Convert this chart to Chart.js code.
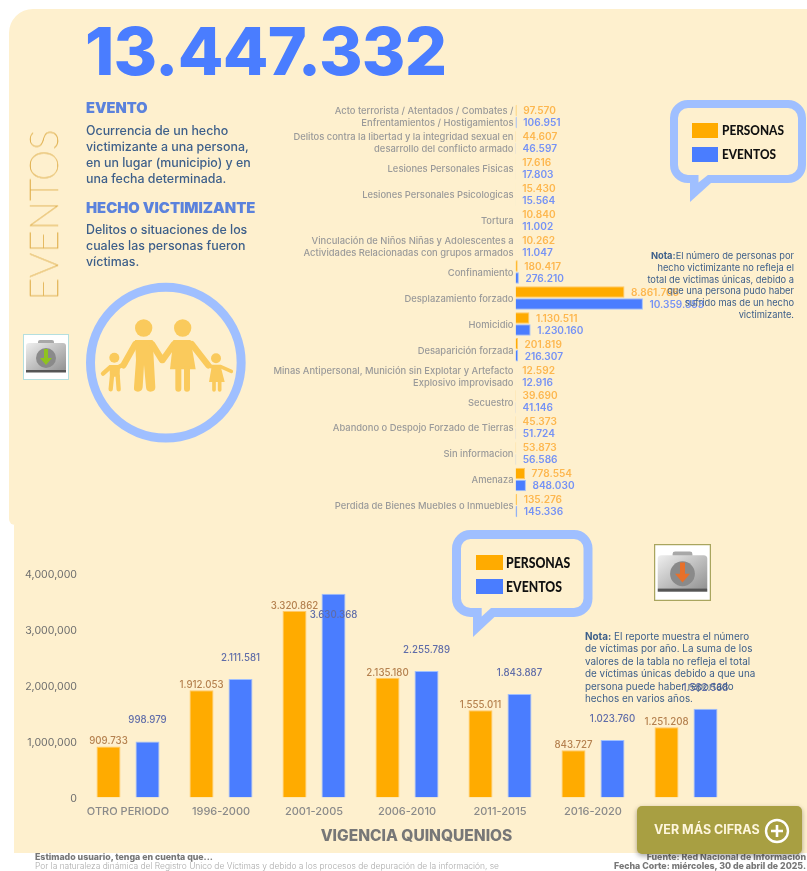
<!DOCTYPE html>
<html lang="es"><head><meta charset="utf-8">
<script src="https://cdn.jsdelivr.net/npm/chart.js@4"></script>
<style>
html,body{margin:0;padding:0;background:#fff;overflow:hidden}
#page{position:relative;width:807px;height:871px;overflow:hidden;font-family:Inter,"Open Sans",sans-serif}
.abs{position:absolute}
.panel{background:#FEF0CE}
canvas{position:absolute}
h3{position:absolute;margin:0;font-family:Inter;font-weight:900;color:#5B82DC;white-space:nowrap}
.body{position:absolute;font-family:Inter;font-size:12.4px;line-height:16px;color:#3D5F8A;font-weight:500;white-space:pre}
.note{position:absolute;color:#3D5F8A;font-family:Inter;white-space:pre}
.lg{position:absolute;font-family:Lato;font-weight:900;color:#111;white-space:nowrap;line-height:1;transform-origin:0 50%}
.sw{position:absolute}
</style></head><body>
<div id="page">
<div class="abs panel" style="left:9px;top:9px;width:798px;height:516px;border-radius:24px 0 0 6px"></div>
<div class="abs panel" style="left:14px;top:525px;width:793px;height:328px"></div>

<canvas id="top" width="807" height="425" style="left:0;top:100px;width:807px;height:425px"></canvas>
<canvas id="bot" width="807" height="293" style="left:0;top:560px;width:807px;height:293px"></canvas>

<div class="abs" id="total" style="left:85px;top:11px;font:800 66.5px/80px Inter;letter-spacing:-0.8px;color:#4A7DFF;white-space:nowrap"></div>
<div class="abs" style="left:42.500px;top:215px;width:0;height:0"><div style="position:absolute;transform:translate(-50%,-50%) rotate(-90deg);font:100 39px/40px Lato;color:#DDAB45;-webkit-text-stroke:.3px #DDAB45;white-space:nowrap">EVENTOS</div></div>

<h3 style="left:86px;top:100px;font-size:14.6px;line-height:17px">EVENTO</h3>
<div class="body" style="left:86px;top:123px">Ocurrencia de un hecho
victimizante a una persona,
en un lugar (municipio) y en
una fecha determinada.</div>
<h3 style="left:86px;top:199px;font-size:14.8px;line-height:18px">HECHO VICTIMIZANTE</h3>
<div class="body" style="left:86px;top:222px">Delitos o situaciones de los
cuales las personas fueron
víctimas.</div>

<svg class="abs" style="left:0;top:280px" width="260" height="180" viewBox="0 0 780 540">
<circle cx="497.500" cy="248" r="226" fill="none" stroke="#9FBFFF" stroke-width="27"/>
<g fill="#FACA5C" stroke="#FACA5C" stroke-linecap="round" stroke-linejoin="round">
<circle cx="431" cy="144" r="26" stroke="none"/><circle cx="548" cy="144" r="26" stroke="none"/>
<circle cx="343" cy="233" r="15" stroke="none"/><circle cx="648" cy="235" r="15" stroke="none"/>
<path stroke="none" d="M405 180H458L466 322Q466 335 451 335Q439 335 438 322L432 255L428 322Q426 335 414 335Q400 335 402 322L408 240Z"/>
<path fill="none" stroke-width="19" d="M406 192L370 256M456 192L486 240M522 192L488 240M575 192L625 256"/>
<path stroke="none" d="M520 180H572L587 268H510Z"/>
<path fill="none" stroke-width="18" d="M535 268V326M561 268V326"/>
<path stroke="none" d="M328 255H360L359 290H330Z"/>
<path fill="none" stroke-width="13" d="M336 288L332 328M353 288L356 328M330 262L309 281M358 260L376 250"/>
<path stroke="none" d="M636 254H661L674 306H627Z"/>
<path fill="none" stroke-width="11" d="M642 306V330M659 306V330M634 260L615 248M662 260L694 274"/>
</g></svg>

<svg class="abs" style="left:22.500px;top:334px" width="46" height="46" viewBox="0 0 46 46">
<defs><linearGradient id="f1" x1="0" y1="0" x2="1" y2="1"><stop offset="0" stop-color="#EFEFEF"/><stop offset="1" stop-color="#8F8F8F"/></linearGradient></defs>
<rect x=".5" y=".5" width="45" height="45" fill="#fff" stroke="#B5DFDF"/>
<rect x="15" y="6" width="16" height="7" rx="2" fill="#A8A8A8"/>
<rect x="3" y="9" width="40" height="29" rx="3" fill="url(#f1)"/><rect x="3" y="36" width="40" height="2.500" fill="#555"/>
<circle cx="23" cy="24" r="10" fill="#8A8A8A"/><path d="M21 15h4v9h4l-6 7-6-7h4z" fill="#8FC31F"/>
</svg>
<svg class="abs" style="left:654px;top:544px" width="57" height="57" viewBox="0 0 46 46">
<defs><linearGradient id="f2" x1="0" y1="0" x2="1" y2="1"><stop offset="0" stop-color="#EFEFEF"/><stop offset="1" stop-color="#8F8F8F"/></linearGradient></defs>
<rect x=".5" y=".5" width="45" height="45" fill="#fff" stroke="#A9A55E"/>
<rect x="15" y="6" width="16" height="7" rx="2" fill="#A8A8A8"/>
<rect x="3" y="9" width="40" height="29" rx="3" fill="url(#f2)"/><rect x="3" y="36" width="40" height="2.500" fill="#555"/>
<circle cx="23" cy="24" r="10" fill="#8A8A8A"/><path d="M21 15h4v9h4l-6 7-6-7h4z" fill="#E8702A"/>
</svg>

<svg class="abs" style="left:660px;top:90px" width="147" height="120" viewBox="660 90 147 120">
<rect x="674" y="104" width="128" height="75" rx="14" fill="#FEF0CE" stroke="#9FBFFF" stroke-width="8"/>
<path d="M690 178V202L711 183Z" fill="#9FBFFF"/><path d="M698.500 174.500H708.500L698.500 182.500Z" fill="#FEF0CE"/></svg>
<div class="sw" style="left:692px;top:123px;width:26px;height:14.500px;background:#FFAB00"></div>
<div class="sw" style="left:692px;top:147px;width:26px;height:14.500px;background:#4A7DFF"></div>
<div class="lg k0" style="left:722px;top:124px;font-size:13.500px;transform:scaleX(.875)"></div>
<div class="lg k1" style="left:722px;top:148px;font-size:13.500px;transform:scaleX(.875)"></div>

<svg class="abs" style="left:445px;top:525px" width="155" height="120" viewBox="445 525 155 120">
<rect x="456.500" y="534.500" width="131.500" height="78" rx="14" fill="#FEF0CE" stroke="#9FBFFF" stroke-width="9"/>
<path d="M473 611V637L495 616.500Z" fill="#9FBFFF"/><path d="M481.700 608H491L481.700 616.500Z" fill="#FEF0CE"/></svg>
<div class="sw" style="left:475.500px;top:555px;width:27px;height:14.500px;background:#FFAB00"></div>
<div class="sw" style="left:475.500px;top:579px;width:27px;height:15px;background:#4A7DFF"></div>
<div class="lg k0" style="left:506px;top:556px;font-size:14.500px;transform:scaleX(.845)"></div>
<div class="lg k1" style="left:506px;top:580px;font-size:14.500px;transform:scaleX(.845)"></div>

<div class="note" style="right:13px;top:250px;font-size:9.300px;line-height:11.800px;text-align:right;font-weight:400"><b>Nota:</b>El número de personas por
hecho victimizante no refleja el
total de victimas únicas, debido a
que una persona pudo haber
sufrido mas de un hecho
victimizante.</div>
<div class="note" style="left:585px;top:629.500px;font-size:9.900px;line-height:12.600px;font-weight:400"><b>Nota:</b> El reporte muestra el número
de víctimas por año. La suma de los
valores de la tabla no refleja el total
de víctimas únicas debido a que una
persona puede haber reportado
hechos en varios años.</div>

<div class="abs" id="xtitle" style="left:216.500px;width:400px;text-align:center;top:826px;font:800 15.500px/20px Inter;color:#777;white-space:nowrap"></div>

<div class="abs" style="left:35px;top:852px;font:800 8.800px/10px Inter;color:#777;white-space:nowrap">Estimado usuario, tenga en cuenta que...</div>
<div class="abs" style="left:35px;top:861px;font:300 8.450px/10px Inter;color:#AAA;white-space:nowrap">Por la naturaleza dinámica del Registro Único de Víctimas y debido a los procesos de depuración de la información, se</div>
<div class="abs" style="right:1px;top:852px;font:800 8.800px/10px Inter;color:#777;white-space:nowrap">Fuente: Red Nacional de Información</div>
<div class="abs" style="right:1px;top:861px;font:800 8.800px/10px Inter;color:#777;white-space:nowrap">Fecha Corte: miércoles, 30 de abril de 2025.</div>

<div class="abs" style="left:637px;top:806px;width:165px;height:48px;background:#A89F42;border-radius:5px;box-shadow:0 2px 5px rgba(0,0,0,.35)"></div>
<div class="abs" style="left:654px;top:822px;font:700 12.500px/16px Inter;color:#FEF6DC;white-space:nowrap">VER MÁS CIFRAS</div>
<svg class="abs" style="left:764px;top:818px" width="26" height="26" viewBox="0 0 26 26"><circle cx="13" cy="13" r="11" fill="none" stroke="#fff" stroke-width="2.400"/><path d="M13 7V19M7 13H19" stroke="#fff" stroke-width="2.600"/></svg>
</div>

<script>
const totalEventos = 13447332;
const seriesNames = ['PERSONAS', 'EVENTOS'];
const hechos = [
  ['Acto terrorista / Atentados / Combates /', 'Enfrentamientos / Hostigamientos'],
  ['Delitos contra la libertad y la integridad sexual en', 'desarrollo del conflicto armado'],
  'Lesiones Personales Fisicas',
  'Lesiones Personales Psicologicas',
  'Tortura',
  ['Vinculación de Niños Niñas y Adolescentes a', 'Actividades Relacionadas con grupos armados'],
  'Confinamiento',
  'Desplazamiento forzado',
  'Homicidio',
  'Desaparición forzada',
  ['Minas Antipersonal, Munición sin Explotar y Artefacto', 'Explosivo improvisado'],
  'Secuestro',
  'Abandono o Despojo Forzado de Tierras',
  'Sin informacion',
  'Amenaza',
  'Perdida de Bienes Muebles o Inmuebles'
];
const hechosPersonas = [97570, 44607, 17616, 15430, 10840, 10262, 180417, 8861766, 1130511, 201819, 12592, 39690, 45373, 53873, 778554, 135276];
const hechosEventos = [106951, 46597, 17803, 15564, 11002, 11047, 276210, 10359353, 1230160, 216307, 12916, 41146, 51724, 56586, 848030, 145336];
const vigencias = ['OTRO PERIODO', '1996-2000', '2001-2005', '2006-2010', '2011-2015', '2016-2020', '2021-2025'];
const vigenciaPersonas = [909733, 1912053, 3320862, 2135180, 1555011, 843727, 1251208];
const vigenciaEventos = [998979, 2111581, 3630368, 2255789, 1843887, 1023760, 1582568];
const vigenciaTitulo = 'VIGENCIA QUINQUENIOS';

const ORANGE = '#FFAB00', BLUE = '#4A7DFF', ORANGE_B = '#FFC966', BLUE_B = '#9FBFFF';
const dotted = n => String(n).replace(/\B(?=(\d{3})+(?!\d))/g, '.');

document.getElementById('total').textContent = dotted(totalEventos);
document.getElementById('xtitle').textContent = vigenciaTitulo;
document.querySelectorAll('.k0').forEach(e => e.textContent = seriesNames[0]);
document.querySelectorAll('.k1').forEach(e => e.textContent = seriesNames[1]);

const endLabels = {
  id: 'endLabels',
  afterDatasetsDraw(c) {
    const ctx = c.ctx;
    ctx.save();
    ctx.font = '600 10.100px Inter';
    ctx.textBaseline = 'middle';
    ctx.textAlign = 'left';
    c.data.datasets.forEach((ds, i) => {
      ctx.fillStyle = i === 0 ? '#FDB74F' : '#7592F5';
      c.getDatasetMeta(i).data.forEach((el, j) => ctx.fillText(dotted(ds.data[j]), el.x + 6.500, el.y + 0.7));
    });
    ctx.restore();
  }
};
new Chart(document.getElementById('top'), {
  type: 'bar',
  plugins: [endLabels],
  data: { labels: hechos, datasets: [
    { label: seriesNames[0], data: hechosPersonas, backgroundColor: ORANGE, borderColor: ORANGE_B, borderWidth: 1 },
    { label: seriesNames[1], data: hechosEventos, backgroundColor: BLUE, borderColor: BLUE_B, borderWidth: 1 }
  ]},
  options: {
    indexAxis: 'y', responsive: false, animation: false,
    layout: { padding: { top: 3.5, bottom: 6.6, left: 0, right: 0 } },
    plugins: { legend: { display: false }, tooltip: { enabled: false } },
    datasets: { bar: { categoryPercentage: 0.925, barPercentage: 0.96 } },
    scales: {
      x: { display: false, min: 0, max: 23700000 },
      y: {
        afterFit(s) { s.width = 515.5; s.paddingTop = 0; s.paddingBottom = 0; },
        grid: { display: false, drawTicks: false }, border: { display: false },
        ticks: { autoSkip: false, padding: 2, labelOffset: 1, color: '#9A9A9A', font: { family: 'Inter', size: 9.4, weight: 500, lineHeight: 1.27 } }
      }
    }
  }
});

const topLabels = {
  id: 'topLabels',
  afterDatasetsDraw(c) {
    const ctx = c.ctx;
    ctx.save();
    ctx.font = '500 9.700px Inter';
    ctx.textBaseline = 'middle';
    ctx.textAlign = 'center';
    c.data.datasets.forEach((ds, i) => {
      ctx.fillStyle = i === 0 ? '#B5814F' : '#5F6CA8';
      c.getDatasetMeta(i).data.forEach((el, j) => {
        let y = i === 0 ? el.y - 5 : el.y - 21;
        if (i === 1 && y < c.chartArea.top + 30) y = el.y + 21;
        ctx.fillText(dotted(ds.data[j]), el.x, y);
      });
    });
    ctx.restore();
  }
};
new Chart(document.getElementById('bot'), {
  type: 'bar',
  plugins: [topLabels],
  data: { labels: vigencias, datasets: [
    { label: seriesNames[0], data: vigenciaPersonas, backgroundColor: ORANGE, borderColor: ORANGE_B, borderWidth: 1 },
    { label: seriesNames[1], data: vigenciaEventos, backgroundColor: BLUE, borderColor: BLUE_B, borderWidth: 1 }
  ]},
  options: {
    responsive: false, animation: false, locale: 'en-US',
    layout: { padding: { top: 13, bottom: 0, left: 0, right: 74.5 } },
    plugins: { legend: { display: false }, tooltip: { enabled: false } },
    datasets: { bar: { categoryPercentage: 0.839, barPercentage: 0.615 } },
    scales: {
      x: {
        afterFit(s) { s.height = 55.5; s.paddingLeft = 0; s.paddingRight = 0; },
        grid: { display: false, drawTicks: false }, border: { display: false },
        ticks: { autoSkip: false, maxRotation: 0, padding: 8, color: '#8A8A8A', font: { family: 'Inter', size: 11, weight: 500 } }
      },
      y: {
        min: 0, max: 4000000,
        afterFit(s) { s.width = 81.5; s.paddingTop = 0; s.paddingBottom = 0; },
        grid: { display: false, drawTicks: false }, border: { display: false },
        ticks: { stepSize: 1000000, padding: 4.5, labelOffset: 1.5, color: '#6E6E6E', font: { family: 'Inter', size: 10.6 } }
      }
    }
  }
});
</script>
</body></html>
